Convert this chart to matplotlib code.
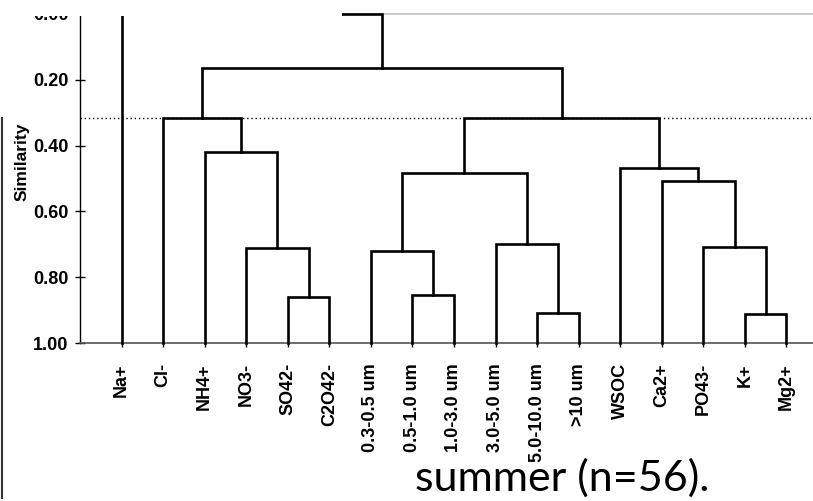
import matplotlib
matplotlib.use("Agg")
import matplotlib.pyplot as plt
from matplotlib.patches import Rectangle
from matplotlib.lines import Line2D

# Hojas del dendrograma (orden de izquierda a derecha)
etiquetas = ["Na+", "Cl-", "NH4+", "NO3-", "SO42-", "C2O42-",
             "0.3-0.5 um", "0.5-1.0 um", "1.0-3.0 um", "3.0-5.0 um",
             "5.0-10.0 um", ">10 um", "WSOC", "Ca2+", "PO43-", "K+", "Mg2+"]

# Uniones: nodo izquierdo, nodo derecho, similitud (nodos nuevos = 17, 18, ...)
union_izq = [15, 10, 4, 7, 3, 6, 14, 9, 13, 22, 12, 2, 1, 26, 29, 0]
union_der = [16, 11, 5, 8, 19, 20, 17, 18, 23, 24, 25, 21, 28, 27, 30, 31]
union_sim = [0.912, 0.909, 0.86, 0.854, 0.711, 0.72, 0.708, 0.699,
             0.508, 0.483, 0.468, 0.42, 0.316, 0.316, 0.164, 0.00]

nivel_corte = 0.316
ticks_y = [0.0, 0.2, 0.4, 0.6, 0.8, 1.0]
titulo = "summer (n=56)."

W, H = 813, 501
fig = plt.figure(figsize=(W / 100, H / 100), dpi=100)
ax = fig.add_axes([80 / W, (H - 343) / H, 748 / W, 329 / H])

# posiciones x e y de cada nodo
pos_x = list(range(len(etiquetas)))
pos_y = [1.0] * len(etiquetas)
for i, d, s in zip(union_izq, union_der, union_sim):
    ax.plot([pos_x[i], pos_x[i], pos_x[d], pos_x[d]],
            [pos_y[i], s, s, pos_y[d]],
            color="black", lw=1.9, zorder=3, clip_on=False,
            solid_joinstyle="miter")
    pos_x.append((pos_x[i] + pos_x[d]) / 2)
    pos_y.append(s)

ax.axhline(nivel_corte, color="black", lw=1, ls=(0, (1, 2)), zorder=2)

ax.set_xlim(-1, 17)
ax.set_ylim(1.0, 0.0)
ax.set_xticks(range(len(etiquetas)))
ax.set_xticklabels(etiquetas, rotation=90, fontsize=13, fontweight="bold",
                   family=["Liberation Sans", "DejaVu Sans"])
ax.set_yticks(ticks_y)
ax.set_yticklabels(["%.2f" % t for t in ticks_y], fontsize=13, fontweight="bold",
                   family=["Liberation Sans Narrow", "Liberation Sans"])
ax.tick_params(axis="x", direction="out", length=3, width=1, pad=11.5)
ax.tick_params(axis="y", direction="inout", length=6.5, width=1, pad=5)

ax.spines["right"].set_visible(False)
ax.spines["top"].set_color("#c0c0c0")
ax.spines["top"].set_linewidth(1.2)
ax.spines["left"].set_linewidth(1)
ax.spines["bottom"].set_color("#555555")
ax.spines["bottom"].set_linewidth(1.2)

fig.text(22 / W, (H - 162) / H, "Similarity", rotation=90, fontsize=12.5,
         fontweight="bold", family=["Liberation Sans", "DejaVu Sans"],
         ha="center", va="center")

# recorte superior de la imagen original
fig.patches.append(Rectangle((0, (H - 15.5) / H), 342 / W, 15.5 / H,
                             transform=fig.transFigure, facecolor="white",
                             edgecolor="none", zorder=10))
# borde izquierdo de la diapositiva
fig.lines.append(Line2D([2 / W, 2 / W], [(H - 118) / H, (H - 498) / H],
                        transform=fig.transFigure, color="#333333", lw=1.5))

fig.text(415 / W, (H - 491) / H, titulo, fontsize=31, family=["Lato", "DejaVu Sans"],
         ha="left", va="baseline")

fig.savefig("out.png", dpi=100)
